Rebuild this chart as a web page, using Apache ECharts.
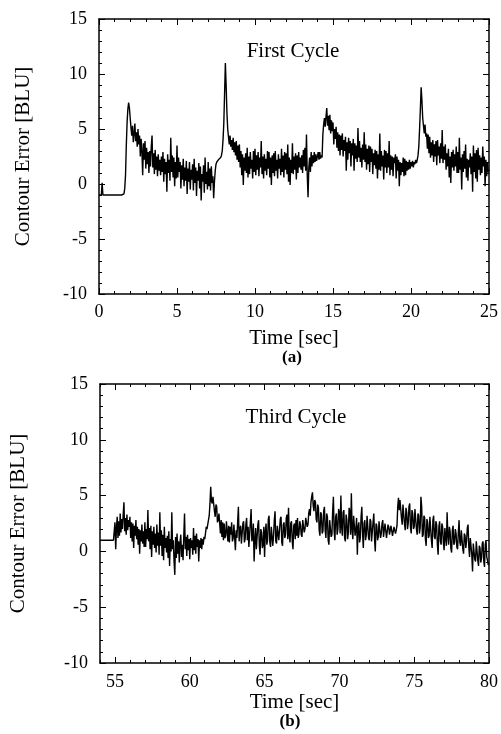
<!DOCTYPE html>
<html><head><meta charset="utf-8">
<script src="https://cdn.jsdelivr.net/npm/echarts@6/dist/echarts.min.js"></script>
<style>html,body{margin:0;padding:0;background:#fff}#c{width:501px;height:734px}</style>
</head><body><div id="c"></div>
<script>
// ---- data ----
const topStart = 0.0, topStep = 0.05;   // sample times: 0.00 .. 25.00 s
const topValues = [
 -1, -1, -1, -1, 0.1, -1, -1, -1, -1, -1, -1, -1, -1, -1, -1, -1, -1, -1, -1, -1,
 -1, -1, -1, -1, -1, -1, -1, -1, -1, -1, -1, -1, -0.9, -0.4, 0.8, 3.5, 5.6, 6.8, 7.4, 6.9,
 6.0, 5.1, 4.4, 5.3, 3.8, 4.6, 5.5, 3.9, 4.7, 3.4, 5.0, 3.6, 4.4, 2.5, 4.1, 3.0, 0.8, 3.7, 2.2, 3.9,
 1.4, 3.3, 1.8, 2.9, 1.0, 3.0, 1.6, 3.4, 4.4, 1.5, 2.8, 0.9, 3.1, 1.3, 2.5, 0.7, 2.7, 1.2, 2.2, 0.8,
 2.5, 1.1, 2.9, 0.2, 2.3, 0.9, 2.0, -0.7, 2.7, 1.0, 2.2, 0.3, 4.2, 1.1, 2.6, 0.6, 2.4, -0.2, 2.0, 0.5,
 3.5, 0.6, 2.4, 1.1, 2.0, -0.4, 1.7, 0.4, 2.3, -0.2, 1.5, 0.3, 2.1, -0.9, 1.4, 0.2, 2.0, -0.5, 1.3, 0.4,
 1.8, -0.6, 2.3, 0.1, 1.5, -1.1, 1.2, 0.3, 1.9, -0.4, 1.6, -1.5, 0.9, 0.2, 1.7, -0.8, 2.4, 0.0, 1.1, -0.5,
 2.0, -0.2, 1.4, -0.6, 1.6, 0.1, 0.7, -1.3, 0.2, 1.2, 1.8, 2.0, 2.1, 2.2, 2.2, 2.3, 2.4, 2.6, 3.0, 4.0,
 5.5, 8.2, 11.0, 9.0, 6.5, 5.0, 4.3, 3.6, 4.4, 3.4, 4.0, 3.1, 4.2, 2.9, 3.8, 2.6, 3.9, 2.2, 3.5, 2.0,
 3.6, 1.5, 3.0, 0.8, 2.7, -0.1, 2.4, 1.2, 2.8, 1.0, 3.3, 0.6, 2.5, 0.9, 2.9, 1.4, 2.2, 0.5, 3.0, 1.1,
 3.2, 0.8, 2.6, 1.3, 2.9, 0.7, 2.4, 1.5, 3.9, 0.9, 2.5, 0.5, 2.7, 1.2, 2.3, 0.8, 3.0, 1.4, 2.9, 0.6,
 2.4, -0.1, 2.6, 1.0, 2.8, 0.7, 3.0, 1.2, 2.2, 0.5, 2.7, 1.4, 2.3, 0.8, 3.2, 1.1, 2.6, 0.6, 2.9, 1.3,
 2.8, 0.9, 3.6, 0.2, 2.4, -0.1, 2.2, 1.0, 3.7, 0.9, 2.5, 1.3, 2.8, 0.4, 2.6, 1.0, 2.9, 1.5, 2.4, 1.3,
 2.6, 1.0, 3.1, 1.6, 3.3, 1.2, 4.5, 0.8, -1.2, 1.5, 2.4, 1.1, 2.9, 1.6, 2.6, 1.9, 2.9, 2.0, 2.7, 2.1,
 2.5, 2.9, 2.2, 2.9, 2.3, 2.6, 2.4, 4.5, 5.4, 6.0, 5.2, 6.1, 6.9, 5.3, 6.2, 4.9, 6.3, 4.6, 5.8, 4.8,
 5.6, 3.6, 5.0, 4.1, 5.2, 3.3, 4.7, 3.0, 4.5, 2.6, 4.4, 3.1, 4.6, 2.5, 4.0, 3.0, 4.3, 1.2, 3.8, 2.2,
 4.2, 2.8, 3.9, 1.6, 3.7, 2.6, 4.1, 1.2, 3.7, 2.3, 3.5, 2.0, 5.1, 2.4, 3.9, 2.0, 3.3, 1.5, 3.6, 2.2,
 4.7, 2.0, 3.6, 1.3, 3.2, 1.8, 3.5, 1.1, 3.4, 2.0, 3.2, 0.9, 2.8, 1.7, 3.1, 1.4, 3.0, 0.5, 2.7, 1.3,
 4.6, 1.2, 3.0, 1.6, 2.6, 0.4, 3.1, 1.5, 3.0, 1.0, 2.8, 1.5, 3.9, 0.8, 2.6, 1.3, 2.5, 0.7, 2.4, 1.9,
 2.7, 0.5, 2.5, 1.2, 2.2, -0.2, 2.0, 0.8, 1.9, 1.1, 2.4, 0.7, 2.3, 0.8, 2.1, 1.2, 2.0, 1.3, 2.2, 1.4,
 2.0, 1.6, 2.1, 1.5, 2.0, 1.8, 2.2, 1.9, 2.2, 2.6, 3.4, 5.0, 6.8, 8.8, 7.6, 6.0, 5.3, 4.6, 5.4, 4.3,
 4.6, 3.2, 4.5, 2.8, 4.3, 2.4, 3.8, 2.6, 4.0, 2.0, 3.6, 2.5, 3.9, 1.7, 4.0, 2.6, 3.4, 1.9, 3.7, 2.3,
 4.9, 1.9, 3.4, 2.2, 3.6, 1.3, 2.8, 1.6, 3.2, 0.6, 2.5, 0.1, 2.9, 1.5, 3.1, 1.2, 2.7, 1.6, 3.4, 1.0,
 2.9, 1.0, 4.2, 1.3, 2.4, -0.5, 2.7, 1.1, 3.0, 1.4, 3.6, 0.6, 2.3, 0.3, 2.2, 1.5, 2.8, 0.9, 2.5, -0.7,
 3.5, 1.1, 2.8, 0.5, 3.1, 0.2, 3.3, 1.3, 2.6, 0.8, 2.4, 1.0, 3.4, 1.6, 2.5, -0.2, 2.2, 0.7, 2.0, 1.1,
 1.3
];
const botStart = 54.0, botStep = 0.05;  // sample times: 54.00 .. 80.00 s
const botValues = [
 1.0, 1.0, 1.0, 1.0, 1.0, 1.0, 1.0, 1.0, 1.0, 1.0, 1.0, 1.0, 1.0, 1.0, 1.0, 1.0, 1.0, 1.0, 1.0, 1.0,
 2.6, 0.2, 2.1, 3.1, 1.2, 2.7, 1.4, 3.4, 1.7, 2.9, 2.0, 3.3, 4.4, 1.8, 3.0, 1.5, 3.3, 1.9, 2.8, 2.2,
 3.1, 1.2, 2.6, 0.9, 2.5, 0.3, 2.3, 1.4, 2.8, 1.1, 2.2, 0.6, 2.0, -0.2, 1.9, 0.9, 2.4, 0.7, 1.8, 0.4,
 2.6, 0.4, 2.0, 1.1, 3.7, 0.9, 2.1, 0.2, 2.3, -0.5, 1.8, 0.6, 2.2, 0.3, 1.6, -0.1, 2.4, 0.5, 1.7, -0.3,
 3.5, 0.5, 1.9, -0.4, 1.5, -0.8, 2.2, 0.3, 1.2, -0.1, 1.4, -0.6, 1.8, -1.3, 1.1, 0.0, 3.5, 0.2, 1.0, -0.9,
 -2.1, 1.3, -0.6, 1.6, -0.2, 0.9, -1.0, 0.8, 1.5, -0.5, 0.6, -0.8, 1.4, 3.4, 0.2, 1.3, -0.4, 1.5, 0.1, 1.1,
 -0.7, 1.2, 0.3, 1.0, -0.3, 2.1, 0.1, 1.4, -0.2, 1.6, 0.4, 1.1, -0.9, 1.0, 0.3, 1.2, 0.2, 1.1, 0.6, 1.3,
 1.1, 1.6, 2.2, 2.0, 2.1, 2.8, 3.2, 4.3, 5.8, 4.5, 4.3, 4.9, 4.8, 3.6, 3.1, 4.2, 4.0, 2.6, 2.8, 3.4,
 3.5, 1.6, 2.8, 1.3, 2.6, 1.0, 2.5, 1.2, 1.4, 2.7, 2.6, 0.9, 2.3, 0.8, 2.2, 1.5, 2.6, 0.9, 1.2, 2.4,
 2.4, 0.1, 1.9, 1.2, 2.6, 4.0, 0.9, 2.0, 2.3, 0.7, 0.6, 2.5, 2.7, 0.8, 1.1, 2.4, 3.0, 1.0, 2.2, 0.4,
 0.4, 2.6, 3.8, 0.9, 1.2, 2.5, -0.9, 1.0, 2.1, 0.2, 0.3, 2.4, 2.8, 0.5, -0.3, 2.0, 1.7, 0.3, 0.6, 2.2,
 -0.5, 1.8, 2.5, 0.6, 1.0, 2.9, 3.2, 0.8, 0.4, 2.2, 2.2, 0.5, 1.4, 2.8, 3.6, 0.9, 0.7, 2.3, 2.4, 1.0,
 1.0, 2.9, 3.1, 0.8, 0.5, 2.4, 2.6, 1.2, 1.5, 3.0, 3.3, 1.1, 3.9, 1.4, 0.8, 2.5, 2.7, 0.9, 0.2, 2.3,
 2.5, 1.1, 2.8, 1.4, 3.0, 1.2, 1.6, 2.7, 2.4, 1.5, 1.3, 2.8, 2.9, 1.7, 2.0, 3.0, 3.1, 2.2, 2.4, 3.4,
 3.8, 3.2, 4.4, 4.9, 5.3, 4.1, 3.6, 4.6, 4.4, 2.9, 2.6, 4.2, 3.9, 1.9, 1.4, 3.5, 3.3, 1.6, 1.8, 3.6,
 4.0, 1.9, 1.2, 3.4, 3.1, 1.0, 0.6, 2.8, 2.9, 1.3, 1.5, 3.6, 4.9, 1.8, 1.0, 3.1, 3.4, 1.5, 2.0, 3.8,
 3.5, 1.6, 5.0, 2.2, 1.4, 3.5, 3.7, 1.2, 0.9, 3.3, 2.8, 1.1, 1.7, 3.9, 3.6, 1.5, 5.2, 2.0, 1.1, 3.2,
 3.3, 1.4, 2.0, 3.0, -0.3, 2.2, 2.6, 0.8, 1.2, 3.1, 4.0, 1.6, 0.3, 2.5, 2.8, 1.0, 1.5, 3.2, 3.1, 1.2,
 1.0, 2.9, 2.7, 0.9, 0.8, 2.6, 3.4, 1.1, 0.0, 2.5, 2.3, 1.0, 1.3, 2.7, 2.6, 1.2, 1.6, 2.5, 2.8, 1.3,
 1.4, 2.5, 2.4, 1.2, 1.2, 2.4, 2.2, 1.5, 1.6, 2.3, 2.3, 1.4, 1.5, 2.2, 2.1, 1.6, 1.9, 2.3, 4.0, 4.8,
 3.7, 4.6, 4.5, 3.0, 2.4, 4.2, 4.1, 2.5, 1.9, 3.9, 3.5, 2.0, 2.5, 4.0, 4.3, 2.2, 1.6, 3.7, 3.4, 2.0,
 2.2, 3.8, 3.9, 2.0, 1.5, 3.4, 3.2, 1.6, 2.1, 4.9, 4.0, 1.3, 1.5, 3.2, 3.0, 1.1, 0.5, 2.9, 2.6, 1.2,
 1.4, 3.1, 3.0, 1.0, 0.3, 2.8, 3.2, 1.3, 1.1, 2.7, 2.4, 0.6, -0.3, 2.2, 2.7, 0.9, 0.6, 2.5, 2.2, 0.8,
 0.1, 2.1, 2.0, 0.5, 3.5, 1.4, 0.6, 2.2, 1.8, 0.3, -0.1, 1.9, 2.3, 0.6, 0.8, 2.0, 1.6, 0.4, 0.2, 1.7,
 2.8, 0.8, 0.5, 1.9, 1.9, 0.2, -0.2, 1.6, 1.4, 0.3, 0.9, 2.1, 2.4, 0.4, -0.5, 1.2, 1.1, -0.3, -1.8, 0.7,
 0.6, -0.7, -0.9, 0.9, 0.8, -0.8, -1.3, 0.5, 0.3, -1.0, -0.6, 0.7, 0.9, -0.9, -1.4, 0.6, 1.0, -0.5, -0.8, -1.2,
 -1.1
];
const xTickLabelsTop = [0, 5, 10, 15, 20, 25];
const xTickLabelsBot = [55, 60, 65, 70, 75, 80];
const yTickLabels = [-10, -5, 0, 5, 10, 15];
const titleTop = 'First Cycle', titleBot = 'Third Cycle';
const xName = 'Time [sec]', yName = 'Contour Error [BLU]';
const panelTags = ['(a)', '(b)'];

// ---- chart ----
const FONT = '"Liberation Serif","Times New Roman",serif';
function pairs(start, step, vals) {
  return vals.map((v, i) => [Math.round((start + i * step) * 100) / 100, v]);
}
const lineAx = { show: true, onZero: false, lineStyle: { color: '#000', width: 1.5 } };
const noLine = { show: false, onZero: false };
const majTick = { show: true, inside: true, length: 6, lineStyle: { color: '#000', width: 1 } };
const minTick = { show: true, splitNumber: 5, length: 3, lineStyle: { color: '#000', width: 1 } };
const smallTick = { show: true, inside: true, length: 3, lineStyle: { color: '#000', width: 1 } };
const lbl = { color: '#000', fontFamily: FONT, fontSize: 18 };
const nameStyle = { color: '#000', fontFamily: FONT, fontSize: 21 };

const xAxes = [
  // top panel
  { gridIndex: 0, type: 'value', position: 'bottom', min: 0, max: 25, interval: 5,
    axisLine: lineAx, axisTick: majTick, minorTick: minTick, splitLine: { show: false },
    axisLabel: Object.assign({ margin: 9, customValues: xTickLabelsTop }, lbl),
    name: xName, nameLocation: 'middle', nameGap: 34, nameTextStyle: nameStyle },
  { gridIndex: 0, type: 'value', position: 'top', min: 0, max: 25, interval: 5,
    axisLine: lineAx, axisTick: majTick, minorTick: minTick, splitLine: { show: false },
    axisLabel: { show: false } },
  // bottom panel
  { gridIndex: 1, type: 'value', position: 'bottom', min: 54, max: 80,
    axisLine: lineAx, axisTick: Object.assign({ customValues: xTickLabelsBot }, majTick),
    splitLine: { show: false },
    axisLabel: Object.assign({ margin: 10, customValues: xTickLabelsBot }, lbl),
    name: xName, nameLocation: 'middle', nameGap: 18, nameTextStyle: nameStyle },
  { gridIndex: 1, type: 'value', position: 'bottom', min: 54, max: 80, interval: 1,
    axisLine: noLine, axisTick: smallTick, splitLine: { show: false }, axisLabel: { show: false } },
  { gridIndex: 1, type: 'value', position: 'top', min: 54, max: 80,
    axisLine: lineAx, axisTick: Object.assign({ customValues: xTickLabelsBot }, majTick),
    splitLine: { show: false }, axisLabel: { show: false } },
  { gridIndex: 1, type: 'value', position: 'top', min: 54, max: 80, interval: 1,
    axisLine: noLine, axisTick: smallTick, splitLine: { show: false }, axisLabel: { show: false } }
];
function yPair(gi, gap) {
  return [
    { gridIndex: gi, type: 'value', position: 'left', min: -10, max: 15, interval: 5,
      axisLine: lineAx, axisTick: majTick, minorTick: minTick, splitLine: { show: false },
      axisLabel: Object.assign({ margin: 12, customValues: yTickLabels }, lbl),
      name: yName, nameLocation: 'middle', nameGap: gap, nameRotate: 90, nameTextStyle: nameStyle },
    { gridIndex: gi, type: 'value', position: 'right', min: -10, max: 15, interval: 5,
      axisLine: lineAx, axisTick: majTick, minorTick: minTick, splitLine: { show: false },
      axisLabel: { show: false } }
  ];
}
const option = {
  animation: false,
  backgroundColor: '#fff',
  grid: [
    { left: 99, right: 11, top: 19, height: 275 },
    { left: 100, right: 8, top: 384, height: 279 }
  ],
  xAxis: xAxes,
  yAxis: yPair(0, 65).concat(yPair(1, 71)),
  series: [
    { type: 'line', xAxisIndex: 0, yAxisIndex: 0, data: pairs(topStart, topStep, topValues),
      showSymbol: false, symbol: 'none', lineStyle: { color: '#000', width: 1.4 }, clip: true },
    { type: 'line', xAxisIndex: 2, yAxisIndex: 2, data: pairs(botStart, botStep, botValues),
      showSymbol: false, symbol: 'none', lineStyle: { color: '#000', width: 1.4 }, clip: true }
  ],
  graphic: [
    { type: 'text', x: 293, y: 51, style: { text: titleTop, font: '21px ' + FONT, fill: '#000', align: 'center', verticalAlign: 'middle' } },
    { type: 'text', x: 296, y: 417, style: { text: titleBot, font: '21px ' + FONT, fill: '#000', align: 'center', verticalAlign: 'middle' } },
    { type: 'text', x: 292, y: 358, style: { text: panelTags[0], font: 'bold 17px ' + FONT, fill: '#000', align: 'center', verticalAlign: 'middle' } },
    { type: 'text', x: 290, y: 722, style: { text: panelTags[1], font: 'bold 17px ' + FONT, fill: '#000', align: 'center', verticalAlign: 'middle' } }
  ]
};
const chart = echarts.init(document.getElementById('c'), null, { renderer: 'canvas' });
chart.setOption(option);
</script>
</body></html>
